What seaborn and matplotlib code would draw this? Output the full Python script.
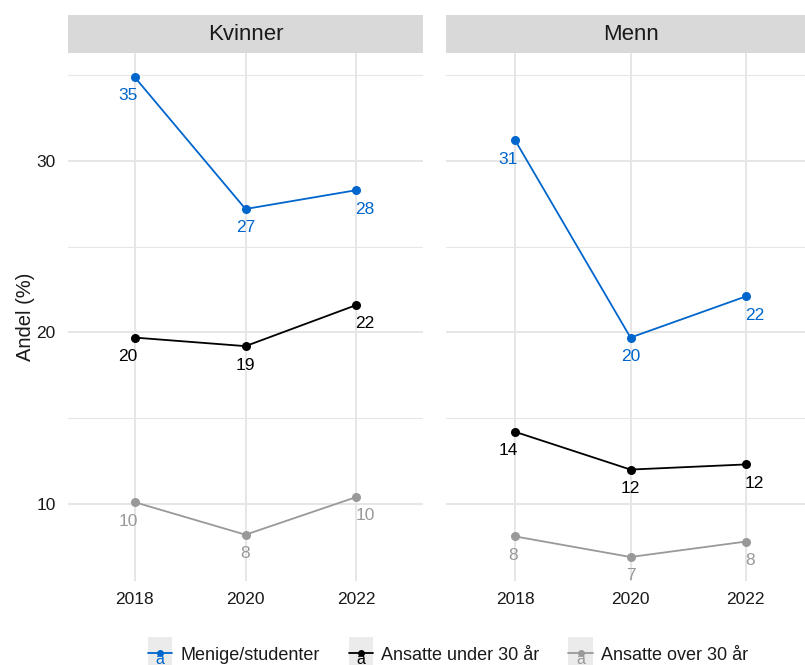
import matplotlib
matplotlib.use("Agg")
import matplotlib.pyplot as plt
from matplotlib.legend_handler import HandlerLine2D
from matplotlib.lines import Line2D
from matplotlib.patches import Rectangle
from matplotlib.text import Text
from matplotlib.ticker import MultipleLocator
import pandas as pd
import seaborn as sns

# ---- data ---------------------------------------------------------------
years = ["2018", "2020", "2022"]
panels = ["Kvinner", "Menn"]
groups = ["Menige/studenter", "Ansatte under 30 år", "Ansatte over 30 år"]

kvinner_menige = [34.9, 27.2, 28.3]
kvinner_under30 = [19.7, 19.2, 21.6]
kvinner_over30 = [10.1, 8.2, 10.4]

menn_menige = [31.2, 19.7, 22.1]
menn_under30 = [14.2, 12.0, 12.3]
menn_over30 = [8.1, 6.9, 7.8]

colors = ["#0066CC", "#000000", "#999999"]

series = {
    "Kvinner": [kvinner_menige, kvinner_under30, kvinner_over30],
    "Menn": [menn_menige, menn_under30, menn_over30],
}

rows = []
for panel in panels:
    for grp, vals in zip(groups, series[panel]):
        for yr, v in zip(years, vals):
            rows.append({"kjonn": panel, "gruppe": grp, "aar": yr, "andel": v})
df = pd.DataFrame(rows)

# ---- style --------------------------------------------------------------
sns.set_style("white")
plt.rcParams["font.family"] = ["Liberation Sans", "DejaVu Sans"]
text_col = "#1a1a1a"
grid_col = "#e6e6e6"

W, H = 805, 665
fig = plt.figure(figsize=(W / 100, H / 100), dpi=100)


def fx(px):
    return px / W


def fy(px):
    return 1 - px / H


panel_top, panel_bot = 53, 581
strip_top = 15
panel_x = {"Kvinner": (68, 423), "Menn": (446, 815)}

ymin, ymax = df["andel"].min(), df["andel"].max()
pad = 0.05 * (ymax - ymin)
palette = dict(zip(groups, colors))

axes = []
for panel in panels:
    x0, x1 = panel_x[panel]
    ax = fig.add_axes([fx(x0), fy(panel_bot), fx(x1 - x0), (panel_bot - panel_top) / H])
    sub = df[df["kjonn"] == panel]
    sns.lineplot(data=sub, x="aar", y="andel", hue="gruppe", hue_order=groups,
                 palette=palette, marker="o", markersize=6.5, markeredgewidth=0,
                 linewidth=1.3, legend=False, ax=ax, sort=False)
    ax.set_xlim(-0.6, 2.6)
    ax.set_ylim(ymin - pad, ymax + pad)
    ax.yaxis.set_major_locator(MultipleLocator(10))
    ax.yaxis.set_minor_locator(MultipleLocator(5))
    ax.grid(True, which="major", color=grid_col, linewidth=1.4)
    ax.grid(True, which="minor", axis="y", color=grid_col, linewidth=0.8)
    ax.set_axisbelow(True)
    for s in ax.spines.values():
        s.set_visible(False)
    ax.tick_params(axis="both", which="both", length=0, labelsize=12.5,
                   labelcolor=text_col)
    ax.tick_params(axis="x", pad=8)
    ax.tick_params(axis="y", pad=9)
    ax.set_xlabel("")
    ax.set_ylabel("")

    # value labels under each point
    for grp, col in zip(groups, colors):
        g = sub[sub["gruppe"] == grp]
        for i, v in enumerate(g["andel"]):
            ha = ["right", "center", "left"][i]
            dx = [3, 0, -1][i]
            ax.annotate(f"{round(v):d}", (i, v), xytext=(dx, -19),
                        textcoords="offset pixels", ha=ha, va="center",
                        color=col, fontsize=12.5)

    # facet strip
    sax = fig.add_axes([fx(x0), fy(panel_top), fx(x1 - x0), (panel_top - strip_top) / H])
    sax.set_facecolor("#d9d9d9")
    sax.set_xticks([])
    sax.set_yticks([])
    for s in sax.spines.values():
        s.set_visible(False)
    sax.text(0.5, 0.5, panel, transform=sax.transAxes, ha="center", va="center",
             fontsize=16, color=text_col)
    axes.append(ax)

axes[1].tick_params(axis="y", labelleft=False)
axes[0].set_ylabel("Andel (%)", fontsize=14.5, color=text_col, labelpad=1)


# ---- legend with grey key backgrounds ----------------------------------
class KeyHandler(HandlerLine2D):
    def create_artists(self, legend, orig_handle, xdescent, ydescent, width,
                       height, fontsize, trans):
        arts = super().create_artists(legend, orig_handle, xdescent, ydescent,
                                      width, height, fontsize, trans)
        bg = Rectangle((-xdescent, -ydescent - 6), width, height + 12,
                       facecolor="#ebebeb", edgecolor="none", transform=trans)
        letter = Text(width / 2 - xdescent, height / 2 - ydescent - 3.5, "a",
                      color=orig_handle.get_color(), ha="center", va="center",
                      fontsize=11.5, transform=trans)
        return [bg, letter] + arts


handles = [Line2D([], [], color=c, marker="o", markersize=5, markeredgewidth=0,
                  linewidth=1.3) for c in colors]
leg = fig.legend(handles, groups, loc="center", ncol=3,
                 bbox_to_anchor=(fx(448), fy(655)), frameon=False,
                 fontsize=13, handlelength=1.35, handleheight=1.1,
                 handletextpad=0.45, columnspacing=1.6,
                 borderaxespad=0, borderpad=0,
                 handler_map={Line2D: KeyHandler()})
for t in leg.get_texts():
    t.set_color(text_col)

fig.savefig("out.png", dpi=100)
